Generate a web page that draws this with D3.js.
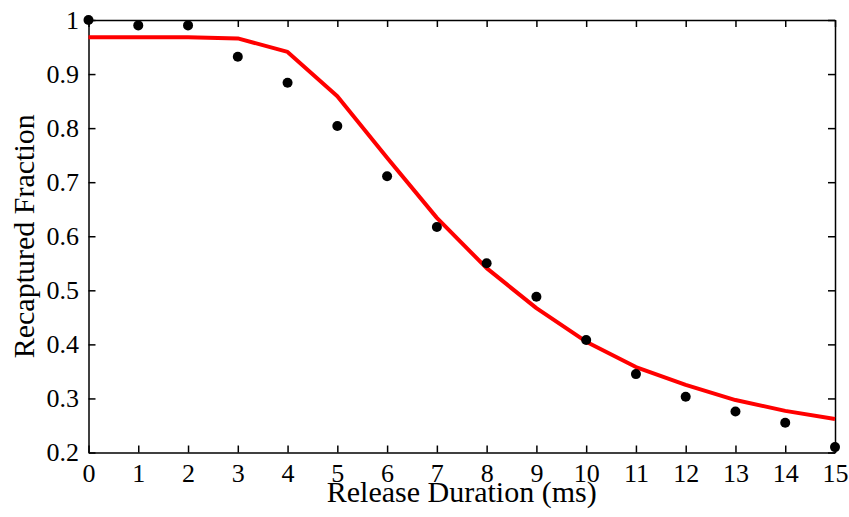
<!DOCTYPE html>
<html>
<head>
<meta charset="utf-8">
<script src="https://cdn.jsdelivr.net/npm/d3@7"></script>
<style>
  body { margin: 0; background: #fff; }
  svg { display: block; }
  .domain, .tick line { stroke: #000; stroke-width: 1.5; }
</style>
</head>
<body>
<svg width="849" height="517"></svg>
<script>
const durations = [0, 1, 2, 3, 4, 5, 6, 7, 8, 9, 10, 11, 12, 13, 14, 15];
const measured = [1.0, 0.99, 0.99, 0.932, 0.884, 0.804, 0.711, 0.617, 0.55, 0.488, 0.408, 0.345, 0.303, 0.276, 0.255, 0.21];
const model = [0.968, 0.968, 0.968, 0.966, 0.941, 0.859, 0.745, 0.634, 0.541, 0.467, 0.405, 0.358, 0.325, 0.297, 0.277, 0.262];
const xTicks = d3.range(0, 16);
const yTicks = [0.2, 0.3, 0.4, 0.5, 0.6, 0.7, 0.8, 0.9, 1];

const serif = "'Liberation Serif', 'Times New Roman', Times, serif";

const svg = d3.select("svg"),
    width = +svg.attr("width"),
    height = +svg.attr("height"),
    margin = {top: 20, right: 14, bottom: 64.5, left: 88.5};

const x = d3.scaleLinear().domain([0, 15]).range([margin.left, width - margin.right]);
const y = d3.scaleLinear().domain([0.2, 1]).range([height - margin.bottom, margin.top]);

const fmt = d => d === 1 ? "1" : d3.format(".1f")(d);

const styleAxis = g => g
    .attr("font-family", serif)
    .attr("font-size", 26)
    .call(g => g.selectAll(".tick text").attr("fill", "#000"));

// box with inward ticks
svg.append("g")
    .attr("transform", "translate(0," + (height - margin.bottom) + ")")
    .call(d3.axisBottom(x).tickValues(xTicks).tickSizeInner(-7).tickSizeOuter(0).tickPadding(11))
    .call(styleAxis);

svg.append("g")
    .attr("transform", "translate(0," + margin.top + ")")
    .call(d3.axisTop(x).tickValues(xTicks).tickSizeInner(-7).tickSizeOuter(0).tickFormat(""));

svg.append("g")
    .attr("transform", "translate(" + margin.left + ",0)")
    .call(d3.axisLeft(y).tickValues(yTicks).tickSizeInner(-7).tickSizeOuter(0).tickPadding(9.5).tickFormat(fmt))
    .call(styleAxis);

svg.append("g")
    .attr("transform", "translate(" + (width - margin.right) + ",0)")
    .call(d3.axisRight(y).tickValues(yTicks).tickSizeInner(-7).tickSizeOuter(0).tickFormat(""));

// model curve
const line = d3.line()
    .x((d, i) => x(durations[i]))
    .y(d => y(d));

svg.append("path")
    .datum(model)
    .attr("d", line)
    .attr("fill", "none")
    .attr("stroke", "#ff0000")
    .attr("stroke-width", 4)
    .attr("stroke-linejoin", "round");

// measured points
svg.append("g")
    .selectAll("circle")
    .data(measured)
    .enter().append("circle")
    .attr("cx", (d, i) => x(durations[i]))
    .attr("cy", d => y(d))
    .attr("r", 5)
    .attr("fill", "#000");

// axis labels
svg.append("text")
    .attr("x", (margin.left + width - margin.right) / 2)
    .attr("y", 502)
    .attr("text-anchor", "middle")
    .attr("font-family", serif)
    .attr("font-size", 30)
    .text("Release Duration (ms)");

svg.append("text")
    .attr("transform", "translate(34," + (margin.top + height - margin.bottom) / 2 + ") rotate(-90)")
    .attr("text-anchor", "middle")
    .attr("font-family", serif)
    .attr("font-size", 30)
    .text("Recaptured Fraction");
</script>
</body>
</html>
